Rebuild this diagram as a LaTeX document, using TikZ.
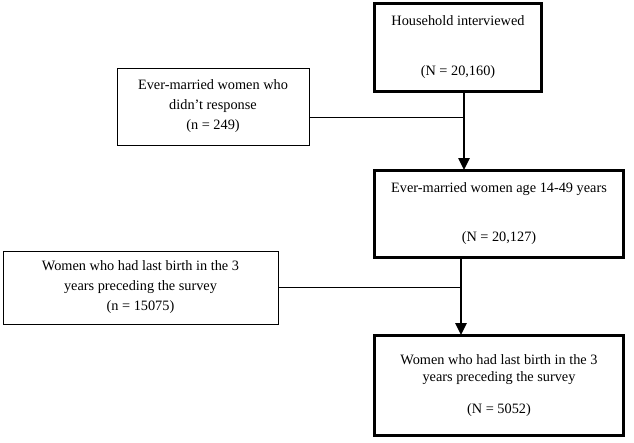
\documentclass[tikz,border=0pt]{standalone}
\usepackage{fontspec}
\setmainfont{Liberation Serif}
\usetikzlibrary{arrows.meta}
\begin{document}
\begin{tikzpicture}[x=1pt,y=-1pt,
  thickbox/.style={draw,line width=3pt,inner sep=0pt,align=center,font=\fontsize{14.3}{17}\selectfont},
  thinbox/.style={draw,line width=1pt,inner sep=0pt,align=center,font=\fontsize{14.3}{20}\selectfont},
  flow/.style={line width=2.5pt,-{Triangle[length=12pt,width=11pt]}},
  side/.style={line width=1.3pt}]
\useasboundingbox (0,0) rectangle (634,442);
\node[thickbox,minimum width=167pt,minimum height=88pt] (b1) at (458,47.5) {Household interviewed\\[33pt](N = 20,160)};
\node[thinbox,minimum width=192pt,minimum height=77pt] (b2) at (213,106.5) {Ever-married women who\\didn’t response\\(n = 249)};
\node[thickbox,minimum width=249pt,minimum height=87pt] (b3) at (499,214) {Ever-married women age 14-49 years\\[32pt](N = 20,127)};
\node[thinbox,minimum width=275pt,minimum height=73pt] (b4) at (140.5,287.5) {Women who had last birth in the 3\\years preceding the survey\\(n = 15075)};
\node[thickbox,minimum width=249pt,minimum height=100pt] (b5) at (499,385.5) {Women who had last birth in the 3\\years preceding the survey\\[15pt](N = 5052)};
\coordinate (a1) at (464,92);
\coordinate (a2) at (464,170);
\coordinate (a3) at (461,258);
\coordinate (a4) at (461,335);
\draw[flow] (a1) -- (a2);
\draw[flow] (a3) -- (a4);
\draw[side] ([yshift=-11pt]b2.east) -- ([yshift=-11pt]b2.east -| a1);
\draw[side] (b4.east) -- (b4.east -| a3);
\end{tikzpicture}
\end{document}
